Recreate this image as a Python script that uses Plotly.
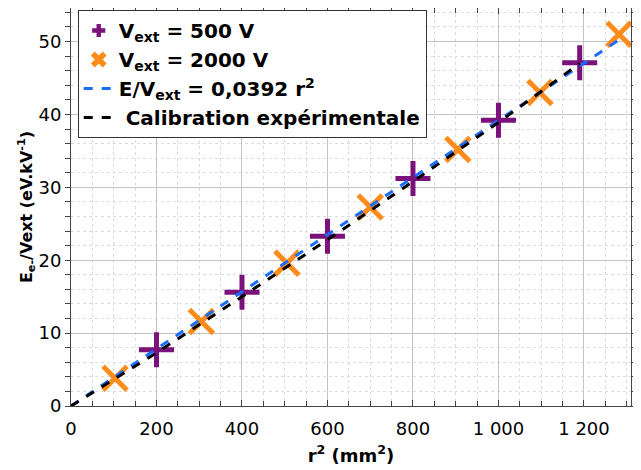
import plotly.graph_objects as go

# Data
r2_500 = [200, 400, 600, 800, 1000, 1190]
e_500 = [7.7, 15.6, 23.3, 31.2, 39.2, 47.1]

r2_2000 = [103, 305, 505, 700, 905, 1097, 1282]
e_2000 = [3.8, 11.6, 19.6, 27.3, 35.2, 43.0, 51.0]

fit_slope = 0.0392
fit_x = [0, 1290]

calib_x = [0, 200, 400, 600, 800, 1000, 1190]
calib_y = [0, 7.3, 15.0, 22.8, 30.8, 38.9, 47.0]

x_ticks = [0, 200, 400, 600, 800, 1000, 1200]
x_labels = ["0", "200", "400", "600", "800", "1 000", "1 200"]

purple = "#7b117b"
orange = "#ff8c1a"

fig = go.Figure()

# data markers (legend drawn by the small legend-only entries below)
fig.add_trace(go.Scatter(
    x=r2_500, y=e_500, mode="markers", showlegend=False,
    marker=dict(symbol="cross-thin", size=25, color=purple,
                line=dict(color=purple, width=5)),
))
fig.add_trace(go.Scatter(
    x=r2_2000, y=e_2000, mode="markers", showlegend=False,
    marker=dict(symbol="x-thin", size=24, color=orange,
                line=dict(color=orange, width=5)),
))
fig.add_trace(go.Scatter(
    x=[None], y=[None], mode="markers", name="V<sub>ext</sub> = 500 V",
    marker=dict(symbol="cross", size=11, color=purple, line=dict(width=0)),
))
fig.add_trace(go.Scatter(
    x=[None], y=[None], mode="markers", name="V<sub>ext</sub> = 2000 V",
    marker=dict(symbol="x", size=14, color=orange, line=dict(width=0)),
))
fig.add_trace(go.Scatter(
    x=fit_x, y=[fit_slope * v for v in fit_x], mode="lines",
    name="E/V<sub>ext</sub> = 0,0392 r<sup>2</sup>",
    line=dict(color="#1a6dff", width=3, dash="dash"),
))
fig.add_trace(go.Scatter(
    x=calib_x, y=calib_y, mode="lines", name=" Calibration expérimentale",
    line=dict(color="black", width=3, dash="dash"),
))

axis_common = dict(
    showline=True, linecolor="#444", linewidth=1, mirror="ticks",
    tickcolor="#444", automargin=False,
    showgrid=True, gridcolor="#c4c4c4", gridwidth=1,
    zeroline=False,
    tickfont=dict(family="DejaVu Sans", size=18, color="black"),
)

fig.update_xaxes(
    **axis_common,
    ticks="inside", ticklen=6, ticklabelstandoff=6,
    range=[0, 1310], tickvals=x_ticks, ticktext=x_labels,
    minor=dict(dtick=50, ticks="inside", ticklen=5, tickcolor="#444",
               showgrid=True, gridcolor="#dcdcdc", griddash="dot"),
    title=dict(text="<b>r<sup>2</sup> (mm<sup>2</sup>)</b>", standoff=11,
               font=dict(family="DejaVu Sans", size=18, color="black")),
)
fig.update_yaxes(
    **axis_common,
    ticks="outside", ticklen=5, ticklabelstandoff=0,
    range=[0, 54.6], dtick=10,
    minor=dict(dtick=2, ticks="outside", ticklen=5, tickcolor="#444",
               showgrid=True, gridcolor="#dcdcdc", griddash="dot"),
    title=dict(text="<b>E<sub>e-</sub>/Vext (eV.kV<sup>-1</sup>)</b>", standoff=0,
               font=dict(family="DejaVu Sans", size=16, color="black")),
)

fig.update_layout(
    width=641, height=470,
    margin=dict(l=63, r=18, t=0, b=72),
    paper_bgcolor="white", plot_bgcolor="white",
    showlegend=True,
    legend=dict(
        x=0.012, y=0.995, xanchor="left", yanchor="top",
        bgcolor="white", bordercolor="#333", borderwidth=1,
        font=dict(family="DejaVu Sans", size=20, color="black", weight="bold"),
        tracegroupgap=0, itemwidth=30,
    ),
)

fig.write_html("out.html")
